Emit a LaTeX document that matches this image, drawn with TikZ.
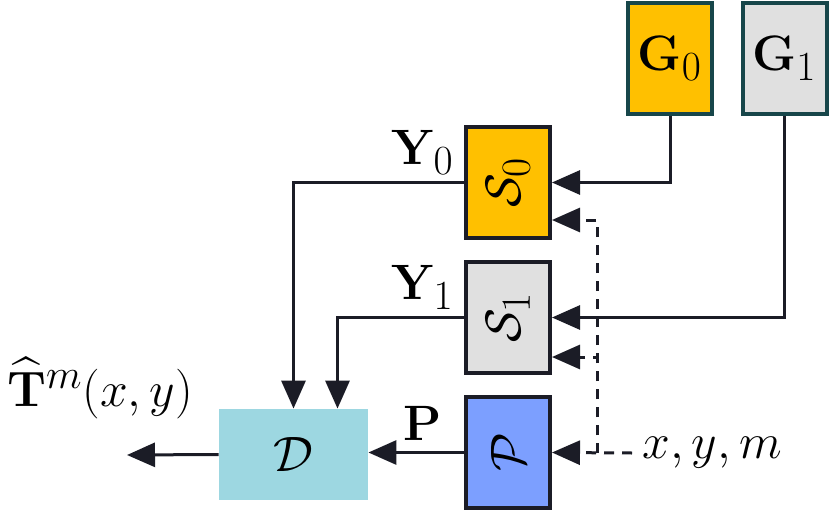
\documentclass[tikz,border=0pt]{standalone}
\usepackage{amsmath}
\usepackage{amssymb}
\usetikzlibrary{
  arrows.meta,
  positioning,
  calc
}
\definecolor{gOrange}{HTML}{FFC000}
\definecolor{gGray}{HTML}{E0E0E0}
\definecolor{gBlue}{HTML}{7C9FFF}
\definecolor{gCyan}{HTML}{9DD7E1}
\definecolor{gTeal}{HTML}{17464A}
\definecolor{gInk}{HTML}{1B1C26}
\tikzset{
  blk/.style={
    draw=gInk, line width=2pt, minimum width=42pt, minimum height=55.5pt,
    inner sep=0pt, font=\Huge
  },
  gen/.style={blk, draw=gTeal},
  dec/.style={fill=gCyan, minimum width=74.5pt, minimum height=45.5pt, inner sep=0pt, font=\Huge},
  lbl/.style={font=\Huge, inner sep=1pt},
  flow/.style={-{Triangle[length=14pt, width=12pt]}, line width=1.5pt, draw=gInk},
  dflow/.style={flow, dash pattern=on 5pt off 4pt}
}
\begin{document}
\begin{tikzpicture}[x=0.5pt, y=-0.5pt]
  \useasboundingbox (0,0) rectangle (830,519);
  % generators
  \node[gen, fill=gOrange] (g0) at (670,58.5) {$\mathbf{G}_0$};
  \node[gen, fill=gGray] (g1) at (784.5,58.5) {$\mathbf{G}_1$};
  % samplers, positional block, decoder
  \node[blk, fill=gOrange] (s0) at (508,182.5) {\rotatebox{90}{$\mathcal{S}_0$}};
  \node[blk, fill=gGray] (s1) at (508,317.5) {\rotatebox{90}{$\mathcal{S}_1$}};
  \node[blk, fill=gBlue] (p) at (508,452.5) {\rotatebox{90}{$\mathcal{P}$}};
  \node[dec] (d) at (293.5,454.5) {$\mathcal{D}$};
  % inputs and output
  \coordinate (in) at (632,453);
  \coordinate (split) at (597,453);
  \coordinate (out) at (127,455);
  \node[lbl, right=4pt of in] (xym) {$x, y, m$};
  \node[lbl] (that) at (100,388) {$\widehat{\mathbf{T}}^m(x,y)$};
  \node[lbl, above left=3pt and 4pt of s0.west] (y0) {$\mathbf{Y}_0$};
  \node[lbl, above left=3pt and 4pt of s1.west] (y1) {$\mathbf{Y}_1$};
  \node[lbl, above left=5pt and 10pt of p.west] (pl) {$\mathbf{P}$};
  % connectors
  \draw[flow] (g0.south) |- (s0.east);
  \draw[flow] (g1.south) |- (s1.east);
  \draw[flow] (s0.west) -| (d.north);
  \draw[flow] (s1.west) -| ([xshift=22pt]d.north);
  \draw[flow] (p.west) -- (p.west -| d.east);
  \draw[flow] (d.west) -- (out);
  \draw[dflow] (in) -- (p.east);
  \draw[dflow] (split) |- ([yshift=10pt]s0.south east);
  \draw[dflow] (split) |- ([yshift=9pt]s1.south east);
\end{tikzpicture}
\end{document}
